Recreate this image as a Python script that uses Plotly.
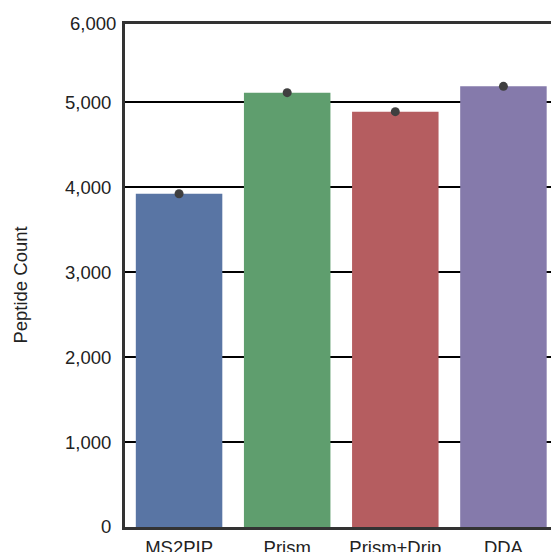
import plotly.graph_objects as go

categories = ["MS2PIP", "Prism", "Prism+Drip", "DDA"]
peptide_counts = [3922, 5112, 4888, 5186]
bar_colors = ["#5975a4", "#5f9e6e", "#b55d60", "#857aab"]
y_ticks = [0, 1000, 2000, 3000, 4000, 5000]
y_tick_labels = ["0", "1,000", "2,000", "3,000", "4,000", "5,000"]
y_top_label = "6,000"
y_title = "Peptide Count"

fig = go.Figure()
fig.add_trace(go.Bar(
    x=categories, y=peptide_counts, marker=dict(color=bar_colors, line=dict(width=0)),
    width=0.8, showlegend=False,
))
fig.add_trace(go.Scatter(
    x=categories, y=peptide_counts, mode="markers",
    marker=dict(color="#3f3f3f", size=9), showlegend=False,
))

fig.update_layout(
    width=551, height=552,
    margin=dict(l=125, r=0, t=24, b=25),
    plot_bgcolor="white", paper_bgcolor="white",
    font=dict(family="Liberation Sans, Arial", size=18.5, color="#222222"),
    bargap=0.2,
)
fig.update_xaxes(
    range=[-0.5, 3.44], showline=True, linecolor="#333333", linewidth=3,
    mirror=True, ticks="", showgrid=False, automargin=False,
    ticklabelstandoff=2,
)
fig.update_yaxes(
    range=[0, 5920], tickvals=y_ticks, ticktext=y_tick_labels,
    showline=True, linecolor="#333333", linewidth=3, mirror=False,
    showgrid=True, gridcolor="black", gridwidth=1.5, zeroline=False,
    ticks="", ticklabelstandoff=7, automargin=False,
)
fig.add_annotation(
    text=y_top_label, xref="paper", yref="paper", x=0, y=1,
    xanchor="right", yanchor="middle", xshift=-7, yshift=1,
    showarrow=False, font=dict(size=18.5),
)
fig.add_annotation(
    text=y_title, textangle=-90, xref="paper", yref="paper",
    x=-0.244, y=0.48, xanchor="center", yanchor="middle",
    showarrow=False, font=dict(size=18.5),
)
fig.write_html("out.html", config={"displayModeBar": False})

with open("out.html", "r", encoding="utf-8") as f:
    html = f.read()
html = html.replace("<head>", "<head><style>html,body{margin:0;padding:0;overflow:hidden;}</style>", 1)
with open("out.html", "w", encoding="utf-8") as f:
    f.write(html)
